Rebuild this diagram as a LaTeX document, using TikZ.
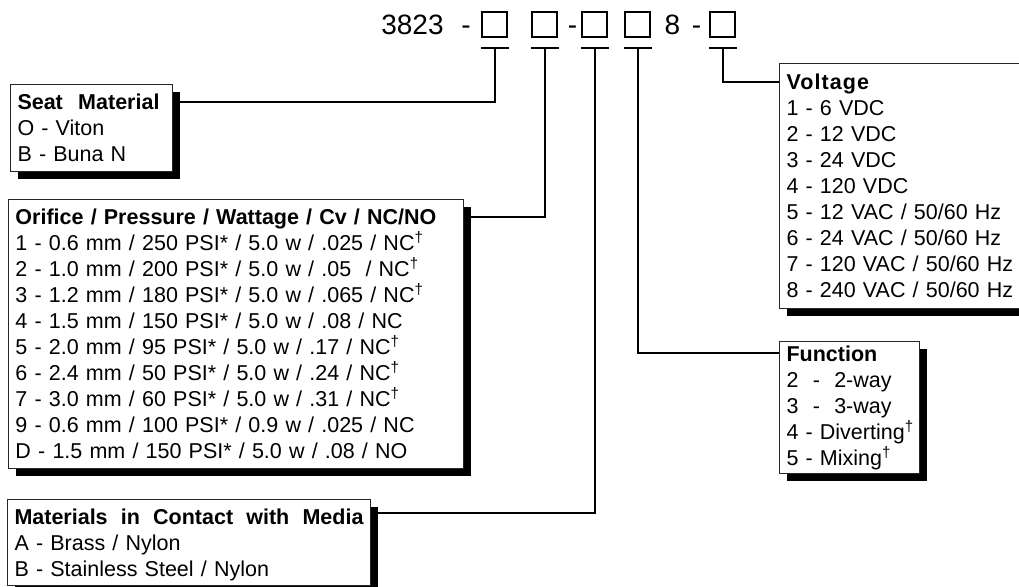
\documentclass[tikz,border=0pt]{standalone}
\usepackage{fontspec}
\setmainfont{Liberation Sans}
\usetikzlibrary{calc,shadows,positioning}

\newcommand{\topgap}[1]{\rule{0pt}{#1pt}}
\newcommand{\botgap}[1]{\rule[-#1pt]{0pt}{#1pt}}
\newcommand{\dg}{\textsuperscript{†}}

\begin{document}
\begin{tikzpicture}[
    x=1pt, y=-1pt,
    font=\fontsize{21.5}{26}\selectfont,
]

\tikzset{
    optbox/.style = {rectangle, draw=black!85, line width=1pt, fill=white,
                     anchor=north west, inner xsep=7pt, inner ysep=0pt, align=left,
                     drop shadow={shadow xshift=7pt, shadow yshift=-7pt, fill=black, opacity=1}},
    slot/.style = {rectangle, draw=black, line width=2pt, minimum size=25pt, inner sep=0pt},
    code/.style = {font=\fontsize{28}{30}\selectfont, anchor=base, inner sep=0pt},
    conn/.style = {line width=2pt, black},
}

\useasboundingbox (0,0) rectangle (1019,586);
\fill[white] (0,0) rectangle (1019,586);
\clip (0,0) rectangle (1019,586);

% =========== PART NUMBER ===========
\node[code] (num) at (412.5,35) {3823};
\node[code] (dash1) at (466,35) {-};
\node[slot] (slot1) at (494.5,24.5) {};
\node[slot] (slot2) at (544.5,24.5) {};
\node[code] (dash2) at (572.5,35) {-};
\node[slot] (slot3) at (594.5,24.5) {};
\node[slot] (slot4) at (637.5,24.5) {};
\node[code] (eight) at (672.5,35) {8};
\node[code] (dash3) at (696.5,35) {-};
\node[slot] (slot5) at (722.5,24.5) {};

% T bars under the slots
\coordinate (t1) at ($(slot1.south)+(0,10)$);
\coordinate (t2) at ($(slot2.south)+(0,10)$);
\coordinate (t3) at ($(slot3.south)+(0,10)$);
\coordinate (t4) at ($(slot4.south)+(0,10)$);
\coordinate (t5) at ($(slot5.south)+(0,10)$);
\draw[conn] ($(t1)+(-14,0)$) -- ($(t1)+(14,0)$);
\draw[conn] ($(t2)+(-14,0)$) -- ($(t2)+(14,0)$);
\draw[conn] ($(t3)+(-14,0)$) -- ($(t3)+(14,0)$);
\draw[conn] ($(t4)+(-14,0)$) -- ($(t4)+(14,0)$);
\draw[conn] ($(t5)+(-14,0)$) -- ($(t5)+(14,0)$);

% =========== OPTION BOXES ===========

% Seat material
\node[optbox, text width=148pt] (seat) at (10,84) {\topgap{25}\hbox to 142pt{\bfseries Seat\hfill Material}\\
    O - Viton\\
    B - Buna N\botgap{10}};

% Orifice
\node[optbox, text width=441pt] (orifice) at (8,199) {\topgap{25}\textbf{Orifice / Pressure / Wattage / Cv / NC/NO}\\
    1 - 0.6 mm / 250 PSI* / 5.0 w / .025 / NC\dg\\
    2 - 1.0 mm / 200 PSI* / 5.0 w / .05\ \ / NC\dg\\
    3 - 1.2 mm / 180 PSI* / 5.0 w / .065 / NC\dg\\
    4 - 1.5 mm / 150 PSI* / 5.0 w / .08 / NC\\
    5 - 2.0 mm / 95 PSI* / 5.0 w / .17 / NC\dg\\
    6 - 2.4 mm / 50 PSI* / 5.0 w / .24 / NC\dg\\
    7 - 3.0 mm / 60 PSI* / 5.0 w / .31 / NC\dg\\
    9 - 0.6 mm / 100 PSI* / 0.9 w / .025 / NC\\
    D - 1.5 mm / 150 PSI* / 5.0 w / .08 / NO\botgap{10}};

% Materials
\node[optbox, text width=349pt] (media) at (7,499) {\topgap{25}\hbox to 349pt{\bfseries Materials\hfill in\hfill Contact\hfill with\hfill Media}\\
    A - Brass / Nylon\\
    B - Stainless Steel / Nylon\botgap{9}};

% Voltage
\node[optbox, text width=250pt] (volt) at (779,63) {\topgap{26}{\bfseries\addfontfeature{LetterSpace=5}Voltage}\\
    1 - 6 VDC\\
    2 - 12 VDC\\
    3 - 24 VDC\\
    4 - 120 VDC\\
    5 - 12 VAC / 50/60 Hz\\
    6 - 24 VAC / 50/60 Hz\\
    7 - 120 VAC / 50/60 Hz\\
    8 - 240 VAC / 50/60 Hz\botgap{11}};

% Function
\node[optbox, text width=126pt] (func) at (779,341) {\topgap{20}\textbf{Function}\\
    \mbox{2\ \ -\ \ 2-way}\\
    \mbox{3\ \ -\ \ 3-way}\\
    \mbox{4 - Diverting\dg}\\
    \mbox{5 - Mixing\dg}\botgap{8}};

% =========== CONNECTORS ===========
\draw[conn] (t1) |- ($(seat.north east)+(0,18)$);
\draw[conn] (t2) |- ($(orifice.north east)+(0,18)$);
\draw[conn] (t3) |- ($(media.north east)+(0,14)$);
\draw[conn] (t4) |- ($(func.north west)+(0,12)$);
\draw[conn] (t5) |- ($(volt.north west)+(0,19)$);

\end{tikzpicture}
\end{document}
